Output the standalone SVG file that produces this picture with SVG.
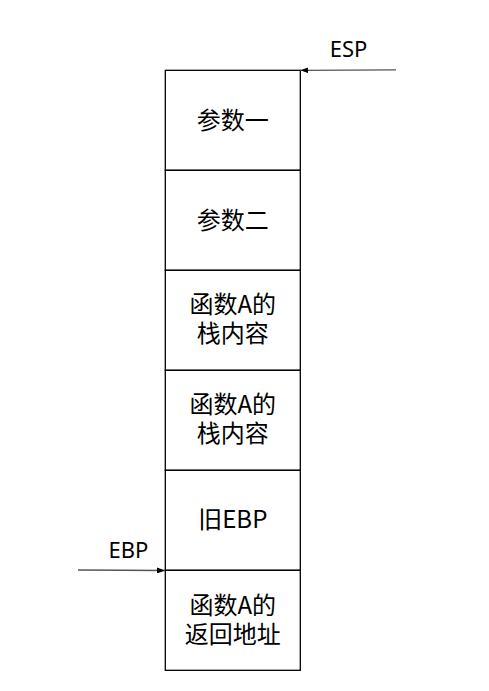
<svg xmlns="http://www.w3.org/2000/svg" width="489" height="691" viewBox="0 0 489 691">
<style>
.box{fill:#fff;stroke:#000;stroke-width:1.3}
.t{font-family:"Microsoft YaHei","Noto Sans CJK SC",sans-serif;font-size:24px;fill:#000;text-anchor:middle}
.lbl{font-family:"Noto Sans","Noto Sans CJK SC",sans-serif;font-size:22px;fill:#000;text-anchor:middle}
.conn{stroke:#555;stroke-width:1.3;fill:none}
</style>
<defs>
<marker id="ah" markerWidth="8" markerHeight="6" refX="8" refY="3" orient="auto" markerUnits="userSpaceOnUse">
<path d="M0,0 L8,3 L0,6 Z" fill="#000"/>
</marker>
</defs>
<rect width="489" height="691" fill="#fff"/>
<g id="n1"><rect class="box" x="165.3" y="70.3" width="135" height="100"/><text class="t" x="232.8" y="128.5">参数一</text></g>
<g id="n2"><rect class="box" x="165.3" y="170.3" width="135" height="100"/><text class="t" x="232.8" y="228.5">参数二</text></g>
<g id="n3"><rect class="box" x="165.3" y="270.3" width="135" height="100"/><text class="t" x="232.8" y="312.5">函数A的<tspan x="232.8" dy="29.5">栈内容</tspan></text></g>
<g id="n4"><rect class="box" x="165.3" y="370.3" width="135" height="100"/><text class="t" x="232.8" y="412.5">函数A的<tspan x="232.8" dy="29.5">栈内容</tspan></text></g>
<g id="n5"><rect class="box" x="165.3" y="470.3" width="135" height="100"/><text class="t" x="232.8" y="528">旧EBP</text></g>
<g id="n6"><rect class="box" x="165.3" y="570.3" width="135" height="100"/><text class="t" x="232.8" y="614">函数A的<tspan x="232.8" dy="29">返回地址</tspan></text></g>
<g id="connectors">
<line class="conn" x1="396" y1="69.8" x2="300.5" y2="70.3" marker-end="url(#ah)"/>
<line class="conn" x1="78" y1="570" x2="165" y2="570.5" marker-end="url(#ah)"/>
</g>
<g id="labels">
<text class="lbl" x="348.5" y="56.7">ESP</text>
<text class="lbl" x="128.5" y="558">EBP</text>
</g>
</svg>
